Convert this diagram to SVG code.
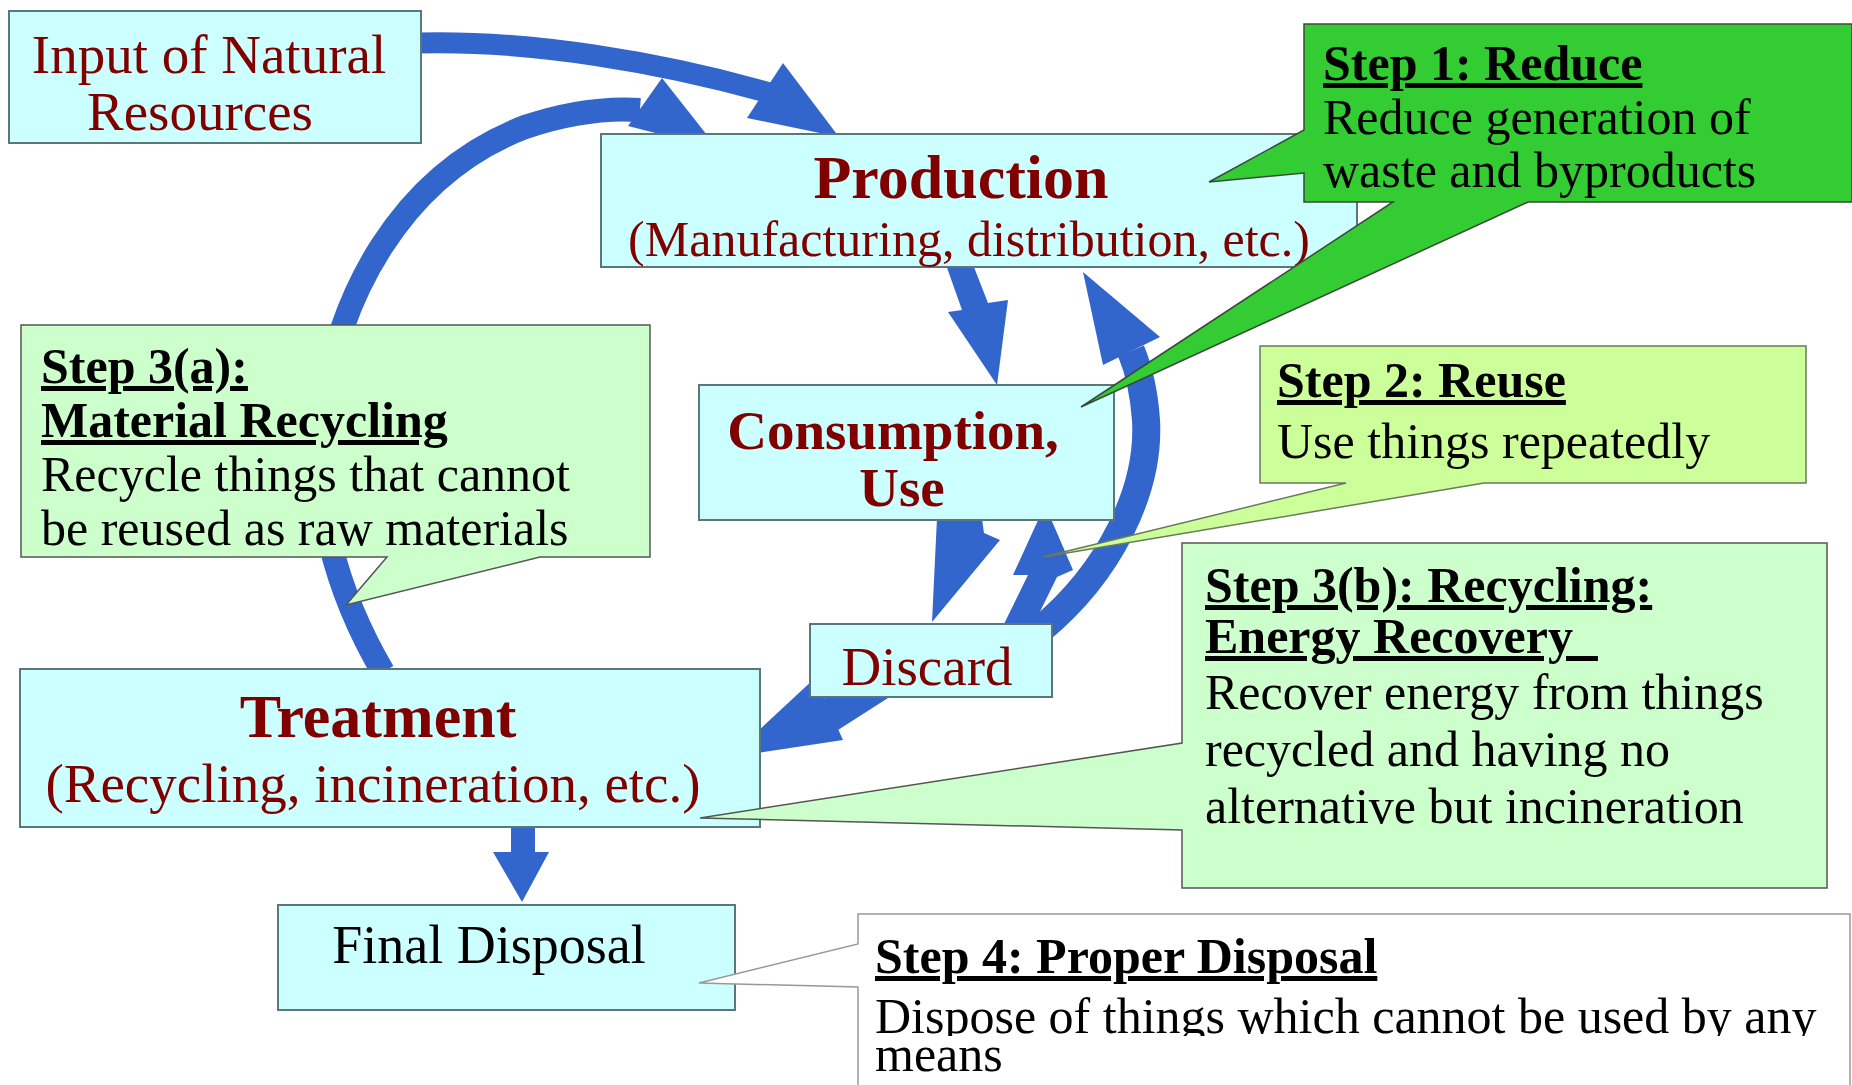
<svg xmlns="http://www.w3.org/2000/svg" width="1852" height="1085" viewBox="0 0 1852 1085">
<style>
.box{fill:#CCFFFF;stroke:#5A7878;stroke-width:2}
.lbl{font-family:"Liberation Serif","Times New Roman",serif;fill:#800000;text-anchor:middle}
.b{font-weight:bold}
.flow{fill:none;stroke:#3366CC}
.head{fill:#3366CC}
.ct{font-family:"Liberation Serif","Times New Roman",serif;font-size:50px;fill:#000}
.ttl{font-weight:bold;text-decoration:underline}
</style>
<defs>
<clipPath id="clip1"><rect x="860" y="990" width="990" height="46"/></clipPath>
</defs>
<rect width="1852" height="1085" fill="#fff"/>
<g id="connectors">
<path class="flow" stroke-width="21" d="M 418,43 C 530,40 660,62 770,93"/>
<polygon class="head" points="783,63 747,118 839,137"/>
<path class="flow" stroke-width="24" d="M 383,672 C 335,590 312,500 322,420 C 335,300 400,175 525,127 C 570,112 610,108 640,110"/>
<polygon class="head" points="662,78 628,126 718,149"/>
<polygon class="head" points="945,262 962,310 948,312 997,385 1008,300 988,303 972,262"/>
<polygon class="head" points="932,622 937,518 955,518 955,505 980,505 984,533 1000,540"/>
<polygon class="head" points="1003,626 1028,575 1013,575 1045,505 1073,570 1057,577 1033,626"/>
<path class="flow" stroke-width="28" d="M 1040,630 C 1110,572 1150,490 1146,420 C 1144,392 1139,370 1131,351"/>
<polygon class="head" points="1103,365 1160,337 1083,272"/>
<polygon class="head" points="838,730 888,698 870,668 822,700"/>
<polygon class="head" points="730,757 815,678 843,740"/>
<polygon class="head" points="511,825 535,825 535,852 549,852 522,902 493,852 511,852"/>
</g>
<g id="input">
<rect class="box" x="9" y="11" width="412" height="132"/>
<text class="lbl" font-size="55" x="209" y="73">Input of Natural</text>
<text class="lbl" font-size="55" x="200" y="130">Resources</text>
</g>
<g id="production">
<rect class="box" x="601" y="134" width="756" height="133"/>
<text class="lbl b" font-size="62" x="961" y="198">Production</text>
<text class="lbl" font-size="50" x="969" y="256">(Manufacturing, distribution, etc.)</text>
</g>
<g id="consumption">
<rect class="box" x="699" y="385" width="415" height="135"/>
<text class="lbl b" font-size="55" x="893" y="449">Consumption,</text>
<text class="lbl b" font-size="55" x="902" y="506">Use</text>
</g>
<g id="discard">
<rect class="box" x="810" y="624" width="242" height="73"/>
<text class="lbl" font-size="55" x="927" y="685">Discard</text>
</g>
<g id="treatment">
<rect class="box" x="20" y="669" width="740" height="158"/>
<text class="lbl b" font-size="62" x="378" y="737">Treatment</text>
<text class="lbl" font-size="55" x="373" y="802">(Recycling, incineration, etc.)</text>
</g>
<g id="final-disposal">
<rect class="box" x="278" y="905" width="457" height="105"/>
<text class="lbl" font-size="54" x="489" y="963" style="fill:#000">Final Disposal</text>
</g>
<g id="step1">
<polygon points="1304,24 1852,24 1852,202 1528,202 1081,407 1393,202 1304,202 1304,173 1209,182 1304,130" fill="#33CC33" stroke="#3A4A3A" stroke-width="1.5"/>
<text class="ct ttl" x="1323" y="80">Step 1: Reduce</text>
<text class="ct" x="1323" y="134">Reduce generation of</text>
<text class="ct" x="1323" y="187">waste and byproducts</text>
</g>
<g id="step2">
<polygon points="1260,346 1806,346 1806,483 1484,483 1043,557 1346,483 1260,483" fill="#CCFF99" stroke="#6A7A5A" stroke-width="1.5"/>
<text class="ct ttl" x="1277" y="397">Step 2: Reuse</text>
<text class="ct" x="1277" y="458">Use things repeatedly</text>
</g>
<g id="step3a">
<polygon points="21,325 650,325 650,557 540,557 346,605 387,557 21,557" fill="#CCFFCC" stroke="#555" stroke-width="1.5"/>
<text class="ct ttl" x="41" y="383">Step 3(a):</text>
<text class="ct ttl" x="41" y="437">Material Recycling</text>
<text class="ct" x="41" y="491">Recycle things that cannot</text>
<text class="ct" x="41" y="545">be reused as raw materials</text>
</g>
<g id="step3b">
<polygon points="1182,543 1827,543 1827,888 1182,888 1182,830 700,818 1182,743" fill="#CCFFCC" stroke="#555" stroke-width="1.5"/>
<text class="ct ttl" x="1205" y="602">Step 3(b): Recycling:</text>
<text class="ct ttl" x="1205" y="653" style="white-space:pre">Energy Recovery  </text>
<text class="ct" x="1205" y="709">Recover energy from things</text>
<text class="ct" x="1205" y="766">recycled and having no</text>
<text class="ct" x="1205" y="823">alternative but incineration</text>
</g>
<g id="step4">
<polygon points="858,914 1850,914 1850,1095 858,1095 858,987 699,983 858,944" fill="#fff" stroke="#999" stroke-width="1.5"/>
<text class="ct ttl" x="875" y="973">Step 4: Proper Disposal</text>
<text class="ct" x="875" y="1033" clip-path="url(#clip1)">Dispose of things which cannot be used by any</text>
<text class="ct" x="875" y="1071">means</text>
</g>
</svg>
